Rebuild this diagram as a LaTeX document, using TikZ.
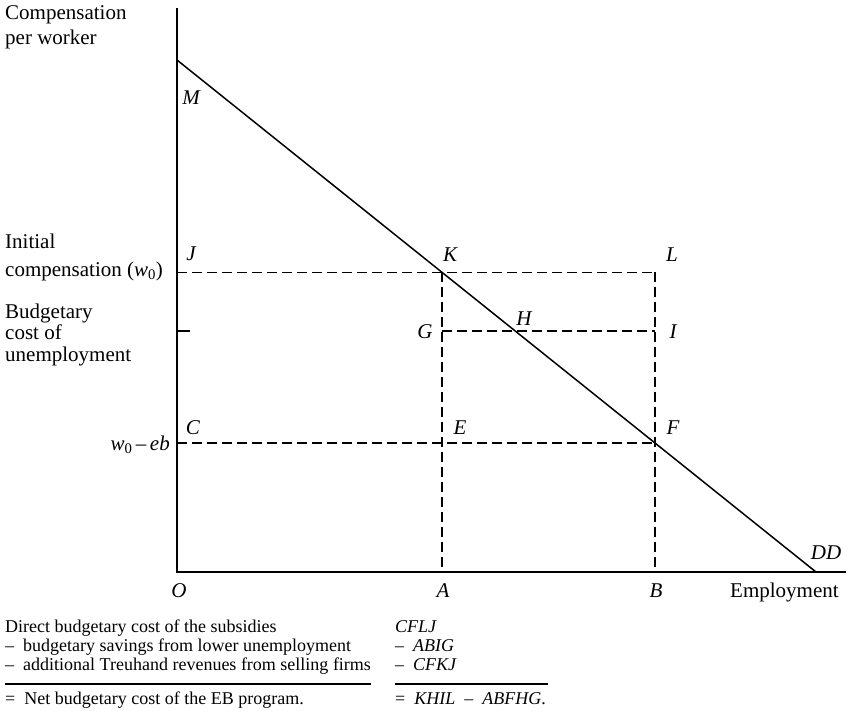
\documentclass[tikz,border=0pt]{standalone}
\usepackage{fontspec}
\setmainfont{Liberation Serif}
\begin{document}
\begin{tikzpicture}[x=1pt,y=-1pt,
  lbl/.style={font=\fontsize{21}{23}\selectfont\itshape, inner sep=0pt},
  txt/.style={font=\fontsize{21}{23}\selectfont, inner sep=0pt, align=left, anchor=base west},
  tbl/.style={font=\fontsize{18}{19}\selectfont, inner sep=0pt, anchor=base west},
  dsh/.style={dash pattern=on 9.5pt off 5.5pt, line width=1.3pt},
  ax/.style={line width=1.5pt},
  rule/.style={line width=1.2pt}]
\useasboundingbox (0,0) rectangle (848,710);

% key points
\coordinate (O) at (177,572);
\coordinate (Ytop) at (177,8);
\coordinate (Xend) at (846,572);
\coordinate (M) at (177,60);
\coordinate (DD) at (816,572);
\coordinate (J) at (177,272.3);
\coordinate (K) at (442,272.3);
\coordinate (L) at (655,272.3);
\coordinate (G) at (442,331);
\coordinate (H) at (515.2,331);
\coordinate (I) at (655,331);
\coordinate (C) at (177,443);
\coordinate (E) at (442,443);
\coordinate (F) at (655,443);
\coordinate (A) at (442,572);
\coordinate (B) at (655,572);
\coordinate (T) at (190,331);
\coordinate (Tb) at (177,331);

% axes
\draw[ax] (Ytop) -- (O) -- (Xend);
\draw[ax] (Tb) -- (T);
% demand line
\draw[line width=1.5pt] (M) -- (DD);

% dashed
\draw[dsh] (J) -- (L);
\draw[dsh] (C) -- (F);
\draw[dsh] (G) -- (I);
\draw[dsh] (K) -- (A);
\draw[dsh] (L) -- (B);

% point labels
\node[lbl] (lM) at (191,98) {M};
\node[lbl] (lJ) at (191,254) {J};
\node[lbl] (lK) at (450,255) {K};
\node[lbl] (lL) at (672,255) {L};
\node[lbl] (lG) at (425,332) {G};
\node[lbl] (lH) at (524,319) {H};
\node[lbl] (lI) at (673,332) {I};
\node[lbl] (lC) at (193,428) {C};
\node[lbl] (lE) at (460,428) {E};
\node[lbl] (lF) at (673,428) {F};
\node[lbl] (lDD) at (826,553) {DD};
\node[lbl] (lO) at (179,591) {O};
\node[lbl] (lA) at (443,591) {A};
\node[lbl] (lB) at (656,591) {B};
\node[txt] (lEmp) at (730,597) {Employment};

% axis texts
\node[txt, font=\fontsize{21}{25}\selectfont] (lComp) at (5,44) {Compensation\\per worker};
\node[txt, font=\fontsize{21}{28}\selectfont] (lInit) at (5,276) {Initial\\compensation ({\itshape w}\textsubscript{0})};
\node[txt, font=\fontsize{21}{21.5}\selectfont] (lBud) at (5,361) {Budgetary\\cost of\\unemployment};
\node[txt, anchor=base east] (lWeb) at (170,450) {{\itshape w}\textsubscript{0}\,–\,{\itshape eb}};

% table
\node[tbl] (r1) at (5,632) {Direct budgetary cost of the subsidies};
\node[tbl] (r2) at (5,651) {–\ \ budgetary savings from lower unemployment};
\node[tbl] (r3) at (5,670) {–\ \ additional Treuhand revenues from selling firms};
\node[tbl] (r5) at (5,704) {=\ \ Net budgetary cost of the EB program.};
\node[tbl] (s1) at (395,632) {\itshape CFLJ};
\node[tbl] (s2) at (395,651) {–\ \ {\itshape ABIG}};
\node[tbl] (s3) at (395,670) {–\ \ {\itshape CFKJ}};
\node[tbl] (s5) at (395,704) {=\ \ {\itshape KHIL}\ \ –\ \ {\itshape ABFHG}.};
\coordinate (ra) at (5,684);
\coordinate (rb) at (r3.east |- ra);
\coordinate (rc) at (395,684);
\coordinate (rd) at (548,684);
\draw[rule] (ra) -- (rb);
\draw[rule] (rc) -- (rd);
\end{tikzpicture}
\end{document}
